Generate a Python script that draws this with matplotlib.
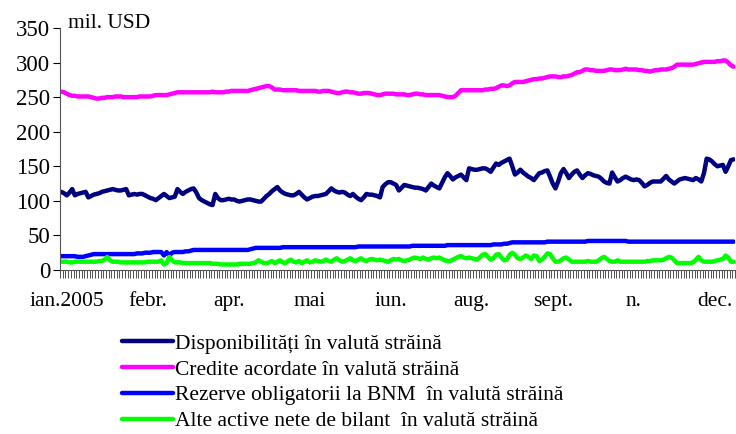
import numpy as np
import matplotlib.pyplot as plt

# daily values, mil. USD, 2005
disponibilitati = [
    113, 111, 108, 112, 117, 108, 110, 111, 112, 113,
    105, 107, 109, 110, 111, 113, 114, 115, 116, 117,
    116, 115, 115, 116, 117, 108, 109, 110, 109, 110,
    110, 108, 106, 104, 103, 101, 104, 107, 110, 107,
    104, 105, 106, 117, 113, 110, 113, 115, 117, 118,
    112, 104, 101, 99, 97, 95, 94, 110, 104, 101,
    101, 102, 103, 102, 102, 100, 99, 100, 101, 102,
    102, 101, 100, 99, 99, 103, 107, 110, 114, 117,
    120, 115, 112, 110, 109, 108, 108, 110, 113, 109,
    105, 102, 104, 106, 107, 107, 108, 109, 110, 114,
    118, 115, 113, 112, 113, 112, 109, 107, 110, 106,
    103, 101, 105, 110, 109, 109, 108, 107, 105, 120,
    124, 127, 127, 125, 123, 115, 119, 123, 122, 121,
    120, 119, 119, 118, 117, 115, 120, 125, 122, 120,
    118, 126, 134, 140, 136, 131, 134, 136, 138, 134,
    130, 147, 146, 145, 145, 146, 147, 147, 145, 142,
    148, 154, 152, 155, 157, 159, 161, 150, 138, 141,
    145, 141, 138, 135, 133, 130, 135, 140, 141, 143,
    144, 135, 125, 118, 128, 140, 146, 140, 133, 138,
    142, 144, 138, 133, 137, 140, 139, 137, 136, 135,
    132, 128, 126, 125, 141, 134, 128, 130, 133, 135,
    133, 131, 130, 131, 130, 126, 121, 123, 126, 128,
    128, 128, 128, 132, 136, 131, 128, 125, 128, 131,
    132, 133, 132, 131, 130, 133, 131, 128, 140, 161,
    160, 157, 153, 150, 151, 152, 142, 150, 159, 160,
]

credite = [
    258, 257, 255, 253, 252, 252, 251, 251, 251, 251,
    251, 250, 249, 248, 248, 249, 249, 250, 250, 250,
    251, 251, 251, 250, 250, 250, 250, 250, 250, 251,
    251, 251, 251, 251, 252, 253, 253, 253, 253, 253,
    254, 255, 256, 257, 257, 257, 257, 257, 257, 257,
    257, 257, 257, 257, 257, 257, 258, 257, 257, 257,
    257, 258, 258, 259, 259, 259, 259, 259, 259, 259,
    260, 261, 262, 263, 264, 265, 266, 266, 264, 261,
    261, 261, 260, 260, 260, 260, 260, 260, 259, 259,
    259, 259, 259, 259, 259, 258, 258, 259, 259, 259,
    258, 257, 256, 256, 257, 258, 258, 257, 257, 256,
    255, 255, 256, 256, 256, 255, 254, 253, 253, 254,
    255, 255, 255, 255, 254, 254, 254, 254, 253, 253,
    254, 255, 255, 254, 254, 253, 253, 253, 253, 253,
    253, 252, 251, 250, 250, 250, 252, 256, 260, 260,
    260, 260, 260, 260, 260, 260, 260, 261, 261, 262,
    262, 263, 265, 267, 267, 266, 267, 270, 272, 272,
    272, 272, 273, 274, 275, 276, 276, 277, 277, 278,
    279, 280, 280, 280, 279, 279, 280, 280, 281, 282,
    284, 286, 286, 288, 290, 290, 289, 289, 288, 288,
    288, 288, 289, 290, 290, 289, 289, 289, 290, 291,
    290, 290, 290, 290, 289, 289, 288, 288, 287, 288,
    289, 289, 290, 290, 290, 291, 292, 294, 297, 297,
    297, 297, 297, 297, 297, 298, 299, 300, 301, 301,
    301, 301, 301, 302, 302, 303, 303, 300, 296, 294,
]

rezerve = [
    20, 20, 20, 20, 20, 20, 19, 19, 19, 20,
    21, 22, 23, 23, 23, 23, 23, 23, 23, 23,
    23, 23, 23, 23, 23, 23, 23, 23, 24, 24,
    24, 25, 25, 25, 26, 26, 26, 26, 21, 26,
    21, 25, 26, 26, 26, 26, 27, 27, 28, 29,
    29, 29, 29, 29, 29, 29, 29, 29, 29, 29,
    29, 29, 29, 29, 29, 29, 29, 29, 29, 29,
    30, 31, 32, 32, 32, 32, 32, 32, 32, 32,
    32, 32, 33, 33, 33, 33, 33, 33, 33, 33,
    33, 33, 33, 33, 33, 33, 33, 33, 33, 33,
    33, 33, 33, 33, 33, 33, 33, 33, 33, 33,
    34, 34, 34, 34, 34, 34, 34, 34, 34, 34,
    34, 34, 34, 34, 34, 34, 34, 34, 34, 34,
    35, 35, 35, 35, 35, 35, 35, 35, 35, 35,
    35, 35, 35, 36, 36, 36, 36, 36, 36, 36,
    36, 36, 36, 36, 36, 36, 36, 36, 36, 36,
    37, 37, 37, 37, 38, 38, 39, 40, 40, 40,
    40, 40, 40, 40, 40, 40, 40, 40, 40, 40,
    41, 41, 41, 41, 41, 41, 41, 41, 41, 41,
    41, 41, 41, 41, 41, 42, 42, 42, 42, 42,
    42, 42, 42, 42, 42, 42, 42, 42, 42, 42,
    41, 41, 41, 41, 41, 41, 41, 41, 41, 41,
    41, 41, 41, 41, 41, 41, 41, 41, 41, 41,
    41, 41, 41, 41, 41, 41, 41, 41, 41, 41,
    41, 41, 41, 41, 41, 41, 41, 41, 41, 41,
]

alte_active = [
    12, 12, 12, 11, 11, 12, 12, 12, 12, 12,
    12, 12, 12, 12, 13, 13, 15, 19, 14, 12,
    12, 12, 11, 11, 11, 11, 11, 11, 11, 11,
    11, 11, 12, 12, 12, 12, 12, 14, 8, 10,
    19, 14, 11, 11, 11, 10, 10, 10, 10, 10,
    10, 10, 10, 10, 10, 10, 9, 9, 9, 8,
    8, 8, 8, 8, 8, 8, 9, 9, 9, 9,
    9, 10, 11, 14, 12, 10, 10, 11, 13, 10,
    12, 14, 11, 10, 13, 15, 12, 11, 13, 10,
    12, 14, 11, 12, 14, 13, 12, 13, 15, 13,
    12, 15, 17, 14, 12, 13, 15, 17, 14, 13,
    15, 17, 14, 13, 15, 16, 15, 14, 15, 14,
    13, 12, 14, 16, 15, 16, 14, 13, 14, 15,
    17, 18, 17, 16, 18, 16, 15, 17, 18, 17,
    18, 16, 14, 13, 13, 15, 17, 19, 20, 18,
    17, 18, 17, 16, 15, 18, 22, 23, 19, 15,
    17, 22, 23, 18, 14, 15, 22, 25, 22, 17,
    16, 18, 21, 19, 16, 21, 20, 13, 15, 19,
    24, 23, 17, 12, 12, 14, 17, 18, 15, 12,
    12, 12, 12, 12, 12, 13, 12, 12, 12, 14,
    17, 19, 16, 13, 12, 12, 14, 12, 12, 12,
    12, 12, 12, 12, 12, 12, 12, 13, 13, 14,
    14, 14, 14, 15, 17, 19, 18, 14, 10, 10,
    10, 10, 10, 10, 11, 15, 19, 14, 12, 12,
    12, 12, 13, 14, 15, 16, 21, 18, 12, 12,
]

month_labels = ["ian.2005", "febr.", "apr.", "mai", "iun.", "aug.", "sept.", "n.", "dec."]
label_step = 30
label_start = 2

series = [
    (disponibilitati, "#000080", "Disponibilități în valută străină"),
    (credite, "#FF00FF", "Credite acordate în valută străină"),
    (rezerve, "#0000FF", "Rezerve obligatorii la BNM  în valută străină"),
    (alte_active, "#00FF00", "Alte active nete de bilant  în valută străină"),
]

plt.rcParams['font.family'] = ['Liberation Serif', 'DejaVu Serif']
plt.rcParams['font.size'] = 15.5

fig = plt.figure(figsize=(7.36, 4.34), dpi=100)
ax = fig.add_axes([60 / 736, 1 - 270 / 434, 675 / 736, 242 / 434])

n = len(disponibilitati)
x = np.arange(n)
for values, color, label in series:
    ax.plot(x, values, color=color, linewidth=3.2, label=label, solid_capstyle='round')

ax.set_xlim(-0.5, n - 0.5)
ax.set_ylim(0, 350)
ax.set_yticks(np.arange(0, 351, 50))

# one small tick between every two days, labels every 30 days
ax.set_xticks(np.arange(-0.5, n, 1.0), minor=True)
ax.set_xticks(label_start + label_step * np.arange(len(month_labels)))
ax.set_xticklabels(month_labels)
ax.tick_params(axis='x', which='major', length=0, pad=16)
ax.tick_params(axis='x', which='minor', length=6, width=0.6, color='#333333')
ax.tick_params(axis='y', length=5, width=0.8, pad=2, labelsize=16.5)

for side in ('top', 'right'):
    ax.spines[side].set_visible(False)
ax.spines['left'].set_color('#555555')
ax.spines['bottom'].set_color('#555555')

ax.text(0.012, 1.02, "mil. USD", transform=ax.transAxes, ha='left', va='center')

fig.legend(loc='upper left', bbox_to_anchor=(113 / 736, 1 - 325 / 434), frameon=False,
           handlelength=2.4, handletextpad=0.1, labelspacing=0.27, borderaxespad=0)

fig.savefig("out.png", dpi=100)
